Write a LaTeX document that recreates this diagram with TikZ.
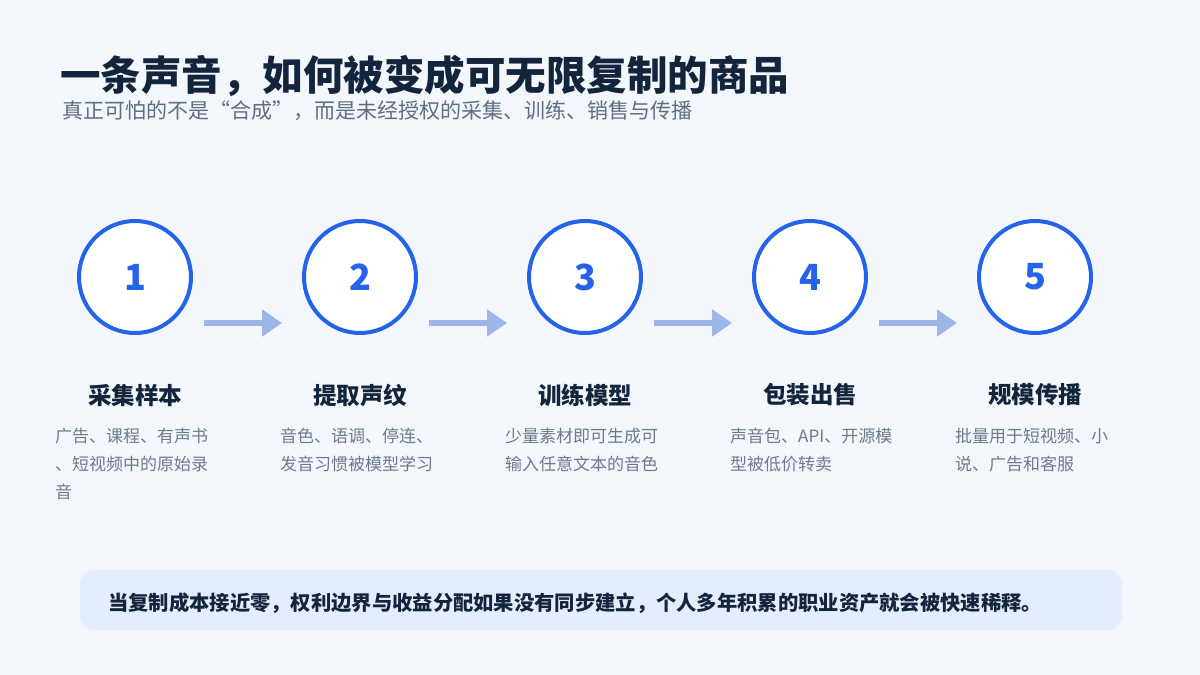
\documentclass[tikz,border=0pt]{standalone}
\usepackage{fontspec}
\setmainfont{Noto Sans CJK SC}
\usetikzlibrary{arrows.meta}
\definecolor{bg}{HTML}{F3F7FC}
\definecolor{navy}{HTML}{13253D}
\definecolor{sub}{HTML}{5E6E82}
\definecolor{mainblue}{HTML}{2563EB}
\definecolor{arrowblue}{HTML}{9BB6E7}
\definecolor{desc}{HTML}{6B7B8F}
\definecolor{boxfill}{HTML}{E4EDFC}
\tikzset{
  stepcircle/.style={circle, draw=mainblue, line width=4pt, fill=white, minimum size=112pt, inner sep=0pt,
     text=mainblue, font=\fontsize{36}{36}\selectfont\bfseries},
  heading/.style={text=navy, font=\fontsize{23.5}{23.5}\selectfont\bfseries, inner sep=0pt},
  desctext/.style={text=desc, font=\fontsize{17}{28}\selectfont, align=left, text width=160pt, inner sep=0pt, anchor=north west},
  flow/.style={draw=arrowblue, line width=6pt, -{Triangle[length=20pt,width=26pt]}},
}
\begin{document}
\begin{tikzpicture}[x=1pt,y=-1pt]
\fill[bg] (0,0) rectangle (1200,675);
\useasboundingbox (0,0) rectangle (1200,675);
\node[anchor=base west, inner sep=0pt, text=navy, font=\fontsize{40.5}{40.5}\selectfont\bfseries] (title) at (60,90) {一条声音，如何被变成可无限复制的商品};
\node[anchor=base west, inner sep=0pt, text=sub, font=\fontsize{21}{21}\selectfont] (subtitle) at (62,118) {真正可怕的不是“合成”，而是未经授权的采集、训练、销售与传播};

\foreach \i/\x in {1/135,2/360,3/585,4/810,5/1035}{
  \node[stepcircle] (c\i) at (\x,277) {\i};
}
\foreach \a/\b in {1/2,2/3,3/4,4/5}{
  \draw[flow] ([xshift=11pt,yshift=-46pt]c\a.east) -- ([xshift=-20pt,yshift=-46pt]c\b.west);
}
\node[heading] (h1) at (135,395) {采集样本};
\node[heading] (h2) at (360,395) {提取声纹};
\node[heading] (h3) at (585,395) {训练模型};
\node[heading] (h4) at (810,395) {包装出售};
\node[heading] (h5) at (1035,395) {规模传播};

\node[desctext] (d1) at (55,428) {广告、课程、有声书\\、短视频中的原始录\\音};
\node[desctext] (d2) at (280,428) {音色、语调、停连、\\发音习惯被模型学习};
\node[desctext] (d3) at (505,428) {少量素材即可生成可\\输入任意文本的音色};
\node[desctext] (d4) at (730,428) {声音包、API、开源模\\型被低价转卖};
\node[desctext] (d5) at (955,428) {批量用于短视频、小\\说、广告和客服};

\node[fill=boxfill, rounded corners=14pt, minimum width=1042pt, minimum height=60pt, inner sep=0pt] (box) at (601,600) {};
\node[anchor=west, inner sep=0pt, text=navy, font=\fontsize{20.3}{20.3}\selectfont\bfseries] (note) at (108,603) {当复制成本接近零，权利边界与收益分配如果没有同步建立，个人多年积累的职业资产就会被快速稀释。};
\end{tikzpicture}
\end{document}
